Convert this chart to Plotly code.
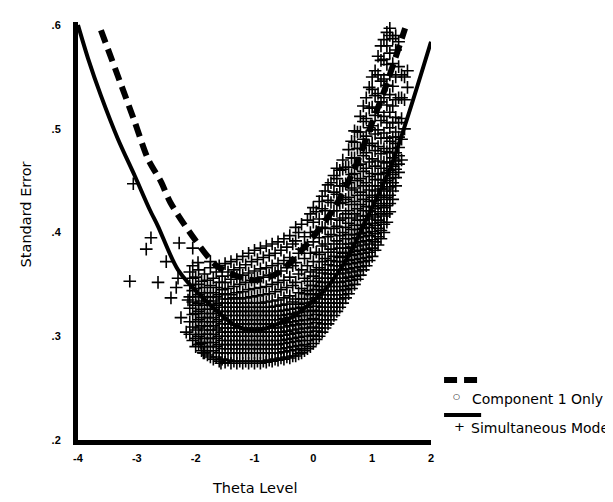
import plotly.graph_objects as go

# ---------------- data ----------------
# Component 1 Only (thick dashed curve)
COMP1_THETA = [-3.61, -3.05, -2.81, -2.59, -2.43, -2.01, -1.62, -1.02, -0.60, -0.09, 0.37, 0.71, 0.98, 1.22, 1.56]
COMP1_SE = [0.595, 0.509, 0.471, 0.449, 0.429, 0.393, 0.367, 0.354, 0.361, 0.390, 0.425, 0.463, 0.503, 0.539, 0.597]

# Simultaneous model (solid curve)
SIMUL_THETA = [-4.00, -3.83, -3.61, -3.32, -3.03, -2.78, -2.64, -2.30, -1.84, -1.28, -0.94, -0.38, 0.20, 0.59, 0.93, 1.32, 2.00]
SIMUL_SE = [0.600, 0.568, 0.532, 0.490, 0.454, 0.422, 0.406, 0.364, 0.335, 0.309, 0.306, 0.318, 0.345, 0.377, 0.416, 0.464, 0.584]

# Simultaneous-model individual estimates ("+" markers), read column by column
SIM_COL_THETA = [
    -2.10, -2.05, -2.00, -1.95, -1.90, -1.85, -1.80, -1.75, -1.70, -1.65,
    -1.60, -1.55, -1.50, -1.45, -1.40, -1.35, -1.30, -1.25, -1.20, -1.15,
    -1.10, -1.05, -1.00, -0.95, -0.90, -0.85, -0.80, -0.75, -0.70, -0.65,
    -0.60, -0.55, -0.50, -0.45, -0.40, -0.35, -0.30, -0.25, -0.20, -0.15,
    -0.10, -0.05, 0.00, 0.05, 0.10, 0.15, 0.20, 0.25, 0.30, 0.35,
    0.40, 0.45, 0.50, 0.55, 0.60, 0.65, 0.70, 0.75, 0.80, 0.85,
    0.90, 0.95, 1.00, 1.05, 1.10, 1.15, 1.20, 1.25, 1.30, 1.35,
    1.40, 1.45, 1.50, 1.55, 1.60,
]
SIM_COL_SE = [
    [0.302, 0.314, 0.327, 0.338, 0.349, 0.362],
    [0.296, 0.309, 0.321, 0.333, 0.344, 0.356, 0.368],
    [0.290, 0.298, 0.306, 0.314, 0.322, 0.330, 0.338, 0.346, 0.357],
    [0.292, 0.300, 0.308, 0.316, 0.324, 0.332, 0.340, 0.350, 0.364],
    [0.286, 0.294, 0.302, 0.310, 0.318, 0.326, 0.334, 0.342, 0.353],
    [0.284, 0.290, 0.298, 0.306, 0.314, 0.322, 0.330, 0.338, 0.347, 0.360],
    [0.282, 0.286, 0.294, 0.302, 0.310, 0.318, 0.326, 0.334, 0.342, 0.354],
    [0.280, 0.290, 0.298, 0.306, 0.314, 0.322, 0.330, 0.338, 0.349, 0.366],
    [0.278, 0.286, 0.294, 0.302, 0.310, 0.318, 0.326, 0.334, 0.342, 0.356],
    [0.280, 0.290, 0.298, 0.306, 0.314, 0.322, 0.330, 0.338, 0.347, 0.362],
    [0.276, 0.284, 0.292, 0.300, 0.308, 0.316, 0.324, 0.332, 0.340, 0.352, 0.368],
    [0.278, 0.288, 0.296, 0.304, 0.312, 0.320, 0.328, 0.336, 0.345, 0.358],
    [0.275, 0.284, 0.292, 0.300, 0.308, 0.316, 0.324, 0.332, 0.341, 0.352, 0.370],
    [0.277, 0.288, 0.296, 0.304, 0.312, 0.320, 0.328, 0.336, 0.346, 0.362],
    [0.274, 0.284, 0.292, 0.300, 0.308, 0.316, 0.324, 0.332, 0.340, 0.355, 0.372],
    [0.276, 0.288, 0.296, 0.304, 0.312, 0.320, 0.328, 0.337, 0.348, 0.364],
    [0.274, 0.284, 0.292, 0.300, 0.308, 0.316, 0.324, 0.332, 0.342, 0.357, 0.374],
    [0.276, 0.288, 0.296, 0.304, 0.312, 0.320, 0.328, 0.336, 0.350, 0.366],
    [0.274, 0.284, 0.292, 0.300, 0.308, 0.316, 0.324, 0.332, 0.343, 0.359, 0.377],
    [0.276, 0.288, 0.296, 0.304, 0.312, 0.320, 0.328, 0.337, 0.352, 0.369],
    [0.274, 0.284, 0.292, 0.300, 0.308, 0.316, 0.324, 0.332, 0.345, 0.361, 0.380],
    [0.276, 0.288, 0.296, 0.304, 0.312, 0.320, 0.328, 0.338, 0.354, 0.372],
    [0.274, 0.284, 0.292, 0.300, 0.308, 0.316, 0.324, 0.332, 0.346, 0.363, 0.383],
    [0.276, 0.288, 0.296, 0.304, 0.312, 0.320, 0.328, 0.339, 0.356, 0.374],
    [0.274, 0.284, 0.292, 0.300, 0.308, 0.316, 0.324, 0.332, 0.347, 0.365, 0.385],
    [0.276, 0.288, 0.296, 0.304, 0.312, 0.320, 0.328, 0.340, 0.357, 0.376],
    [0.275, 0.284, 0.292, 0.300, 0.308, 0.316, 0.324, 0.333, 0.348, 0.366, 0.387],
    [0.277, 0.288, 0.296, 0.304, 0.312, 0.320, 0.328, 0.341, 0.359, 0.378],
    [0.276, 0.284, 0.292, 0.300, 0.308, 0.316, 0.324, 0.334, 0.350, 0.368, 0.389],
    [0.278, 0.288, 0.296, 0.304, 0.312, 0.320, 0.329, 0.343, 0.361, 0.380],
    [0.277, 0.284, 0.292, 0.300, 0.308, 0.316, 0.324, 0.335, 0.352, 0.370, 0.391],
    [0.279, 0.288, 0.296, 0.304, 0.312, 0.320, 0.330, 0.345, 0.363, 0.383],
    [0.278, 0.285, 0.293, 0.301, 0.309, 0.317, 0.325, 0.337, 0.354, 0.373, 0.394],
    [0.280, 0.289, 0.297, 0.305, 0.313, 0.321, 0.331, 0.347, 0.366, 0.386],
    [0.279, 0.286, 0.294, 0.302, 0.310, 0.318, 0.326, 0.339, 0.357, 0.376, 0.397],
    [0.281, 0.290, 0.298, 0.306, 0.314, 0.322, 0.333, 0.349, 0.368, 0.389],
    [0.281, 0.287, 0.295, 0.303, 0.311, 0.319, 0.327, 0.336, 0.352, 0.371, 0.392, 0.405],
    [0.283, 0.291, 0.299, 0.307, 0.315, 0.323, 0.331, 0.342, 0.360, 0.380, 0.400],
    [0.284, 0.288, 0.296, 0.304, 0.312, 0.320, 0.328, 0.336, 0.346, 0.364, 0.384, 0.408],
    [0.286, 0.292, 0.300, 0.308, 0.316, 0.324, 0.332, 0.341, 0.356, 0.375, 0.396],
    [0.288, 0.296, 0.304, 0.312, 0.320, 0.328, 0.336, 0.344, 0.353, 0.368, 0.388, 0.412],
    [0.290, 0.300, 0.308, 0.316, 0.324, 0.332, 0.340, 0.349, 0.362, 0.380, 0.400, 0.418],
    [0.293, 0.301, 0.309, 0.317, 0.325, 0.333, 0.341, 0.349, 0.358, 0.372, 0.391, 0.410, 0.424],
    [0.297, 0.305, 0.313, 0.321, 0.329, 0.337, 0.345, 0.353, 0.364, 0.381, 0.401, 0.420],
    [0.300, 0.308, 0.316, 0.324, 0.332, 0.340, 0.348, 0.356, 0.366, 0.379, 0.395, 0.413, 0.430],
    [0.304, 0.312, 0.320, 0.328, 0.336, 0.344, 0.352, 0.361, 0.372, 0.387, 0.405, 0.423, 0.435],
    [0.308, 0.316, 0.324, 0.332, 0.340, 0.348, 0.356, 0.364, 0.375, 0.389, 0.404, 0.421, 0.440],
    [0.312, 0.320, 0.328, 0.336, 0.344, 0.352, 0.360, 0.369, 0.381, 0.396, 0.413, 0.431, 0.446],
    [0.316, 0.324, 0.332, 0.340, 0.348, 0.356, 0.364, 0.373, 0.384, 0.398, 0.413, 0.429, 0.448],
    [0.320, 0.328, 0.336, 0.344, 0.352, 0.360, 0.368, 0.377, 0.389, 0.404, 0.421, 0.439, 0.455],
    [0.324, 0.332, 0.340, 0.348, 0.356, 0.364, 0.372, 0.381, 0.392, 0.406, 0.421, 0.437, 0.452, 0.462],
    [0.328, 0.336, 0.344, 0.352, 0.360, 0.368, 0.376, 0.385, 0.397, 0.412, 0.428, 0.445, 0.460],
    [0.332, 0.340, 0.348, 0.356, 0.364, 0.372, 0.380, 0.389, 0.400, 0.414, 0.429, 0.445, 0.461, 0.470],
    [0.337, 0.345, 0.353, 0.361, 0.369, 0.377, 0.385, 0.394, 0.405, 0.418, 0.432, 0.447, 0.463],
    [0.341, 0.349, 0.357, 0.365, 0.373, 0.381, 0.389, 0.398, 0.409, 0.421, 0.434, 0.448, 0.463, 0.480],
    [0.346, 0.354, 0.362, 0.370, 0.378, 0.386, 0.394, 0.403, 0.414, 0.427, 0.441, 0.456, 0.472, 0.488],
    [0.350, 0.358, 0.366, 0.374, 0.382, 0.390, 0.398, 0.407, 0.418, 0.430, 0.443, 0.457, 0.472, 0.487, 0.498],
    [0.355, 0.363, 0.371, 0.379, 0.387, 0.395, 0.403, 0.412, 0.423, 0.436, 0.450, 0.465, 0.481, 0.497],
    [0.359, 0.367, 0.375, 0.383, 0.391, 0.399, 0.407, 0.416, 0.427, 0.439, 0.452, 0.466, 0.481, 0.497, 0.512],
    [0.364, 0.372, 0.380, 0.388, 0.396, 0.404, 0.412, 0.421, 0.432, 0.445, 0.459, 0.474, 0.490, 0.507, 0.522],
    [0.368, 0.376, 0.384, 0.392, 0.400, 0.408, 0.416, 0.425, 0.436, 0.448, 0.462, 0.477, 0.493, 0.510, 0.530],
    [0.373, 0.381, 0.389, 0.397, 0.405, 0.413, 0.421, 0.430, 0.441, 0.454, 0.468, 0.484, 0.501, 0.520, 0.540],
    [0.377, 0.385, 0.393, 0.401, 0.409, 0.417, 0.425, 0.434, 0.445, 0.457, 0.471, 0.486, 0.503, 0.521, 0.538, 0.550],
    [0.383, 0.391, 0.399, 0.407, 0.415, 0.423, 0.431, 0.440, 0.451, 0.464, 0.479, 0.495, 0.513, 0.532, 0.556],
    [0.388, 0.396, 0.404, 0.412, 0.420, 0.428, 0.436, 0.445, 0.456, 0.469, 0.483, 0.499, 0.516, 0.534, 0.552, 0.570],
    [0.394, 0.402, 0.410, 0.418, 0.426, 0.434, 0.442, 0.451, 0.462, 0.476, 0.491, 0.508, 0.526, 0.546, 0.566, 0.580],
    [0.400, 0.408, 0.416, 0.424, 0.432, 0.440, 0.448, 0.457, 0.468, 0.481, 0.496, 0.512, 0.530, 0.548, 0.567, 0.586],
    [0.410, 0.418, 0.426, 0.434, 0.442, 0.450, 0.458, 0.467, 0.478, 0.491, 0.506, 0.523, 0.542, 0.562, 0.580, 0.593],
    [0.420, 0.428, 0.436, 0.444, 0.452, 0.460, 0.468, 0.477, 0.488, 0.501, 0.516, 0.533, 0.552, 0.573, 0.590, 0.597],
    [0.432, 0.440, 0.448, 0.456, 0.464, 0.472, 0.481, 0.492, 0.506, 0.522, 0.541, 0.563, 0.587],
    [0.445, 0.453, 0.461, 0.469, 0.477, 0.486, 0.497, 0.511, 0.528, 0.550, 0.576, 0.590],
    [0.458, 0.466, 0.474, 0.482, 0.492, 0.506, 0.530, 0.560, 0.584],
    [0.470, 0.490, 0.510, 0.530, 0.552],
    [0.500, 0.528, 0.550],
    [0.540, 0.556],
]

# isolated "+" estimates on the low-theta side
SIM_OUT_THETA = [-3.12, -3.06, -2.84, -2.76, -2.64, -2.50, -2.42, -2.33, -2.30, -2.28, -2.25,
                 -2.16, -2.13, -2.05, -1.96, -1.91, -1.87, -1.75, -1.57]
SIM_OUT_SE = [0.353, 0.447, 0.384, 0.395, 0.352, 0.372, 0.337, 0.347, 0.356, 0.390, 0.318,
              0.304, 0.335, 0.385, 0.371, 0.293, 0.284, 0.372, 0.274]

X_TICKS = [-4, -3, -2, -1, 0, 1, 2]
X_TICK_TEXT = ["-4", "-3", "-2", "-1", "0", "1", "2"]
Y_TICKS = [0.2, 0.3, 0.4, 0.5, 0.6]
Y_TICK_TEXT = [".2", ".3", ".4", ".5", ".6"]

# ---------------- build marks ----------------
sim_x, sim_y = [], []
for theta, col in zip(SIM_COL_THETA, SIM_COL_SE):
    for se in col:
        sim_x.append(theta)
        sim_y.append(se)
sim_x += SIM_OUT_THETA
sim_y += SIM_OUT_SE

fig = go.Figure()
fig.add_trace(go.Scatter(
    x=sim_x, y=sim_y, mode="markers", name="Simultaneous Model",
    marker=dict(symbol="cross-thin", size=9, color="black",
                line=dict(color="black", width=1.6)),
    showlegend=False, cliponaxis=True,
))
fig.add_trace(go.Scatter(
    x=COMP1_THETA, y=COMP1_SE, mode="lines", name="Component 1 Only",
    line=dict(color="black", width=6, dash="13px,7px", shape="spline", smoothing=0.8),
    showlegend=False,
))
fig.add_trace(go.Scatter(
    x=SIMUL_THETA, y=SIMUL_SE, mode="lines", name="Simultaneous Model",
    line=dict(color="black", width=4, shape="spline", smoothing=0.8),
    showlegend=False,
))

tick_font = dict(family="Liberation Sans, Arial, sans-serif", size=11, color="black", weight="bold")
fig.update_xaxes(
    range=[-4, 2], tickvals=X_TICKS, ticktext=X_TICK_TEXT, tickfont=tick_font,
    showline=True, linewidth=5, linecolor="black", showgrid=False, zeroline=False,
    ticks="", ticklabelstandoff=4,
)
fig.update_yaxes(
    range=[0.2, 0.603], tickvals=Y_TICKS, ticktext=Y_TICK_TEXT, tickfont=tick_font,
    showline=True, linewidth=5, linecolor="black", showgrid=False, zeroline=False,
    ticks="", ticklabelstandoff=10,
)

title_font = dict(family="DejaVu Sans, sans-serif", size=14.5, color="black")
legend_font = dict(family="DejaVu Sans, sans-serif", size=14, color="black")

annotations = [
    dict(text="Theta Level", x=0.5, y=-0.115, xref="paper", yref="paper",
         showarrow=False, font=title_font, xanchor="center", yanchor="middle"),
    dict(text="Standard Error", x=-0.147, y=0.54, xref="paper", yref="paper",
         showarrow=False, font=title_font, textangle=-90, xanchor="center", yanchor="middle"),
    dict(text="○", x=1.071, y=0.103, xref="paper", yref="paper", showarrow=False,
         font=dict(family="DejaVu Sans, sans-serif", size=8, color="black"),
         xanchor="center", yanchor="middle"),
    dict(text="Component 1 Only", x=1.110, y=0.098, xref="paper", yref="paper",
         showarrow=False, font=legend_font, xanchor="left", yanchor="middle"),
    dict(text="+", x=1.082, y=0.033, xref="paper", yref="paper", showarrow=False,
         font=dict(family="DejaVu Sans, sans-serif", size=13, color="black"),
         xanchor="center", yanchor="middle"),
    dict(text="Simultaneous Mode", x=1.108, y=0.029, xref="paper", yref="paper",
         showarrow=False, font=legend_font, xanchor="left", yanchor="middle"),
]
shapes = [
    dict(type="line", xref="paper", yref="paper", x0=1.037, x1=1.142, y0=0.1435, y1=0.1435,
         line=dict(color="black", width=6, dash="13px,7px")),
    dict(type="line", xref="paper", yref="paper", x0=1.037, x1=1.142, y0=0.0598, y1=0.0598,
         line=dict(color="black", width=4)),
]

fig.update_layout(
    width=613, height=502,
    margin=dict(l=70, r=190, t=14, b=70, autoexpand=False),
    paper_bgcolor="white", plot_bgcolor="white",
    annotations=annotations, shapes=shapes,
    showlegend=False,
)

fig.write_html("out.html")
